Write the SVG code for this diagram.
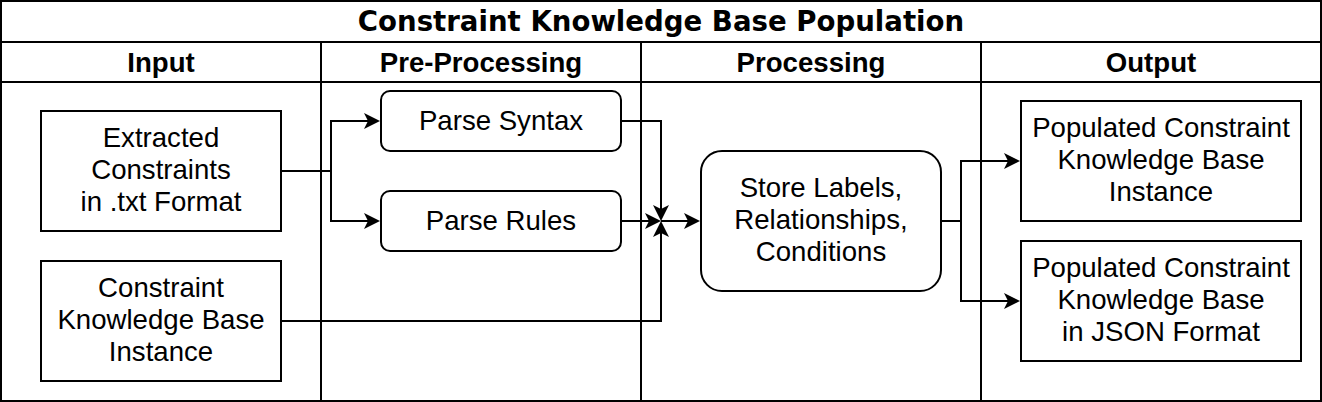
<svg xmlns="http://www.w3.org/2000/svg" width="1322" height="402" viewBox="0 0 1322 402">
<style>
.frame{fill:none;stroke:#000;stroke-width:2}
.box{fill:#fff;stroke:#000;stroke-width:2}
.edge{fill:none;stroke:#000;stroke-width:2}
.title{font-family:"DejaVu Sans",sans-serif;font-weight:bold;font-size:27.6px;text-anchor:middle;fill:#000}
.hdr{font-family:"Liberation Sans",Arial,sans-serif;font-weight:bold;font-size:27.6px;text-anchor:middle;fill:#000}
.lbl{font-family:"Liberation Sans",Arial,sans-serif;font-size:27.6px;text-anchor:middle;fill:#000}
</style>
<defs>
<marker id="arr" markerUnits="userSpaceOnUse" markerWidth="20" markerHeight="20" refX="4" refY="0" orient="auto" style="overflow:visible">
<path d="M16,0 L0,-8 L4,0 L0,8 Z" fill="#000"/>
</marker>
</defs>
<rect width="1322" height="402" fill="#fff"/>
<g id="pool">
<rect class="frame" x="1" y="1" width="1320" height="400"/>
<line class="frame" x1="1" y1="42" x2="1321" y2="42"/>
<line class="frame" x1="1" y1="82" x2="1321" y2="82"/>
<line class="frame" x1="321" y1="42" x2="321" y2="401"/>
<line class="frame" x1="641" y1="42" x2="641" y2="401"/>
<line class="frame" x1="981" y1="42" x2="981" y2="401"/>
<text class="title" x="661" y="31">Constraint Knowledge Base Population</text>
<text class="hdr" x="161" y="72">Input</text>
<text class="hdr" x="481" y="72">Pre-Processing</text>
<text class="hdr" x="811" y="72">Processing</text>
<text class="hdr" x="1151" y="72">Output</text>
</g>
<g id="connectors">
<path class="edge" d="M281,171 H331 V121 H368" marker-end="url(#arr)"/>
<path class="edge" d="M281,171 H331 V221 H368" marker-end="url(#arr)"/>
<path class="edge" d="M621,121 H661 V209" marker-end="url(#arr)"/>
<path class="edge" d="M621,221 H649" marker-end="url(#arr)"/>
<path class="edge" d="M281,321 H661 V233" marker-end="url(#arr)"/>
<path class="edge" d="M661,221 H688" marker-end="url(#arr)"/>
<path class="edge" d="M941,221 H961 V161 H1008" marker-end="url(#arr)"/>
<path class="edge" d="M941,221 H961 V301 H1008" marker-end="url(#arr)"/>
</g>
<g id="extracted">
<rect class="box" x="41" y="111" width="240" height="120"/>
<text class="lbl" x="161" y="146.5"><tspan x="161">Extracted</tspan><tspan x="161" dy="32">Constraints</tspan><tspan x="161" dy="32">in .txt Format</tspan></text>
</g>
<g id="kb-instance">
<rect class="box" x="41" y="261" width="240" height="120"/>
<text class="lbl" x="161" y="296.5"><tspan x="161">Constraint</tspan><tspan x="161" dy="32">Knowledge Base</tspan><tspan x="161" dy="32">Instance</tspan></text>
</g>
<g id="parse-syntax">
<rect class="box" x="381" y="91" width="240" height="60" rx="9" ry="9"/>
<text class="lbl" x="501" y="130">Parse Syntax</text>
</g>
<g id="parse-rules">
<rect class="box" x="381" y="191" width="240" height="60" rx="9" ry="9"/>
<text class="lbl" x="501" y="230">Parse Rules</text>
</g>
<g id="store">
<rect class="box" x="701" y="151" width="240" height="140" rx="21" ry="21"/>
<text class="lbl" x="821" y="196.5"><tspan x="821">Store Labels,</tspan><tspan x="821" dy="32">Relationships,</tspan><tspan x="821" dy="32">Conditions</tspan></text>
</g>
<g id="out-instance">
<rect class="box" x="1021" y="101" width="280" height="120"/>
<text class="lbl" x="1161" y="136.5"><tspan x="1161">Populated Constraint</tspan><tspan x="1161" dy="32">Knowledge Base</tspan><tspan x="1161" dy="32">Instance</tspan></text>
</g>
<g id="out-json">
<rect class="box" x="1021" y="241" width="280" height="120"/>
<text class="lbl" x="1161" y="276.5"><tspan x="1161">Populated Constraint</tspan><tspan x="1161" dy="32">Knowledge Base</tspan><tspan x="1161" dy="32">in JSON Format</tspan></text>
</g>
</svg>
